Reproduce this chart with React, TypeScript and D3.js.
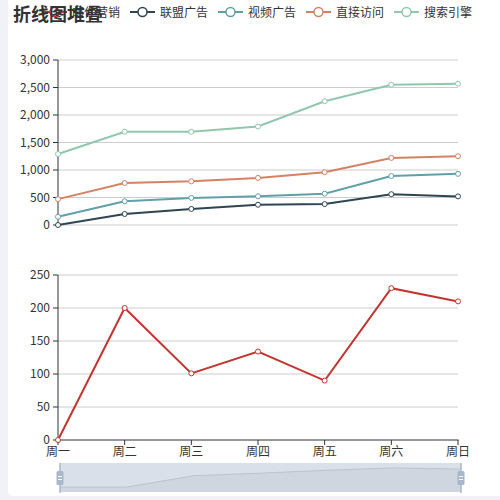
import * as d3 from "d3";

const days = ["周一", "周二", "周三", "周四", "周五", "周六", "周日"];
const legendNames = ["邮件营销", "联盟广告", "视频广告", "直接访问", "搜索引擎"];
const palette = ["#c23531", "#2f4554", "#61a0a8", "#d48265", "#91c7ae"];

// top grid, stacked series
const allianceAds = [0, 200, 292, 368, 380, 560, 520];
const videoAds = [150, 232, 201, 154, 190, 330, 410];
const directVisits = [320, 332, 301, 334, 390, 330, 320];
const searchEngine = [820, 932, 901, 934, 1290, 1330, 1320];

// bottom grid
const emailMarketing = [0, 200, 101, 134, 90, 230, 210];

const topTicks = [0, 500, 1000, 1500, 2000, 2500, 3000];
const bottomTicks = [0, 50, 100, 150, 200, 250];

// slider shadow (0..1000)
const zoomShadow = [170, 170, 560, 650, 750, 830, 790];

const FONT = "'Noto Sans CJK SC', 'Noto Sans', sans-serif";
const TEXT = "#333";

export default function App() {
  const x = d3.scalePoint<string>().domain(days).range([58, 458]);
  const yTop = d3.scaleLinear().domain([0, 3000]).range([225, 60]);
  const yBot = d3.scaleLinear().domain([0, 250]).range([440, 275]);
  const fmt = d3.format(",");

  const stackInput = days.map((d, i) => ({
    day: d,
    a: allianceAds[i],
    b: videoAds[i],
    c: directVisits[i],
    e: searchEngine[i],
  }));
  const stacked = d3.stack<any>().keys(["a", "b", "c", "e"])(stackInput);
  const topColors = palette.slice(1);

  const lineTop = d3
    .line<[number, number]>()
    .x((_, i) => x(days[i])!)
    .y((d) => yTop(d[1]));
  const lineBot = d3
    .line<number>()
    .x((_, i) => x(days[i])!)
    .y((d) => yBot(d));

  // data zoom slider
  const zx = d3.scalePoint<string>().domain(days).range([60, 461]);
  const zy = d3.scaleLinear().domain([0, 1000]).range([492, 463]);
  const shadowLine = d3
    .line<number>()
    .x((_, i) => zx(days[i])!)
    .y((d) => zy(d));
  const shadowArea = d3
    .area<number>()
    .x((_, i) => zx(days[i])!)
    .y0(492)
    .y1((d) => zy(d));

  const legendStart = 42;
  const legendStep = 88;

  const handle = (hx: number) => (
    <g>
      <line x1={hx} x2={hx} y1={463} y2={493} stroke="#a7b7cc" strokeWidth={1.5} />
      <rect x={hx - 3.5} y={471} width={7} height={14} rx={1.5} fill="#a7b7cc" />
      <line x1={hx - 2} x2={hx + 2} y1={476.5} y2={476.5} stroke="#fff" strokeWidth={1} />
      <line x1={hx - 2} x2={hx + 2} y1={479.5} y2={479.5} stroke="#fff" strokeWidth={1} />
    </g>
  );

  return (
    <svg
      width={500}
      height={500}
      style={{ position: "fixed", left: 0, top: 0, fontFamily: FONT }}
    >
      <rect x={0} y={0} width={500} height={500} fill="#f0f2f7" />
      <rect x={8} y={-10} width={510} height={506} rx={5} fill="#fff" />

      {/* legend */}
      {legendNames.map((name, i) => {
        const lx = legendStart + i * legendStep;
        return (
          <g key={name}>
            <line x1={lx} x2={lx + 25} y1={12} y2={12} stroke={palette[i]} strokeWidth={2} />
            <circle cx={lx + 12.5} cy={12} r={4.5} fill="#fff" stroke={palette[i]} strokeWidth={1.5} />
            <text x={lx + 30} y={16.5} fontSize={12} fill={TEXT}>
              {name}
            </text>
          </g>
        );
      })}

      {/* title */}
      <text x={13} y={21} fontSize={18} fontWeight="bold" fill={TEXT}>
        折线图堆叠
      </text>

      {/* top grid */}
      {topTicks.map((t) => (
        <g key={"tt" + t}>
          <line x1={58} x2={458} y1={yTop(t)} y2={yTop(t)} stroke="#ccc" strokeWidth={1} />
          <line x1={53} x2={58} y1={yTop(t)} y2={yTop(t)} stroke={TEXT} strokeWidth={1} />
          <text x={50} y={yTop(t)} dy="0.36em" textAnchor="end" fontSize={12} fill={TEXT}>
            {fmt(t)}
          </text>
        </g>
      ))}
      <line x1={58} x2={58} y1={60} y2={225.5} stroke={TEXT} strokeWidth={1} />

      {stacked.map((s, k) => (
        <g key={"s" + k}>
          <path d={lineTop(s as any) ?? ""} fill="none" stroke={topColors[k]} strokeWidth={2} />
          {s.map((p, i) => (
            <circle
              key={i}
              cx={x(days[i])}
              cy={yTop(p[1])}
              r={2.5}
              fill="#fff"
              stroke={topColors[k]}
              strokeWidth={1}
            />
          ))}
        </g>
      ))}

      {/* bottom grid */}
      {bottomTicks.map((t) => (
        <g key={"bt" + t}>
          {t > 0 && (
            <line x1={58} x2={458} y1={yBot(t)} y2={yBot(t)} stroke="#ccc" strokeWidth={1} />
          )}
          <line x1={53} x2={58} y1={yBot(t)} y2={yBot(t)} stroke={TEXT} strokeWidth={1} />
          <text x={50} y={yBot(t)} dy="0.36em" textAnchor="end" fontSize={12} fill={TEXT}>
            {t}
          </text>
        </g>
      ))}
      <line x1={58} x2={58} y1={275} y2={440} stroke={TEXT} strokeWidth={1} />
      <line x1={58} x2={458.5} y1={440} y2={440} stroke={TEXT} strokeWidth={1} />
      {days.map((d) => (
        <g key={"xd" + d}>
          <line x1={x(d)} x2={x(d)} y1={440} y2={445} stroke={TEXT} strokeWidth={1} />
          <text x={x(d)} y={456} textAnchor="middle" fontSize={12} fill={TEXT}>
            {d}
          </text>
        </g>
      ))}
      <path d={lineBot(emailMarketing) ?? ""} fill="none" stroke={palette[0]} strokeWidth={2} />
      {emailMarketing.map((v, i) => (
        <circle
          key={"em" + i}
          cx={x(days[i])}
          cy={yBot(v)}
          r={2.5}
          fill="#fff"
          stroke={palette[0]}
          strokeWidth={1}
        />
      ))}

      {/* data zoom slider */}
      <rect x={60} y={463} width={401} height={29} fill="#dae0e9" />
      <path d={shadowArea(zoomShadow) ?? ""} fill="#cfd6df" />
      <path d={shadowLine(zoomShadow) ?? ""} fill="none" stroke="#b9c4d1" strokeWidth={1} />
      {handle(60)}
      {handle(461)}
    </svg>
  );
}
